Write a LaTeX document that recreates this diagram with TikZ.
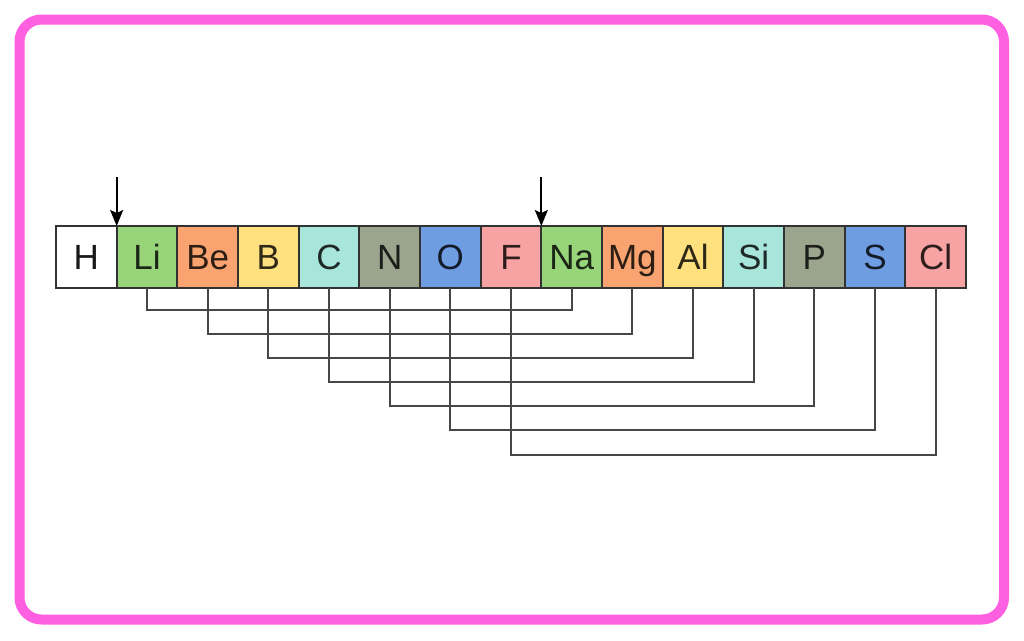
\documentclass[tikz,border=0pt]{standalone}
\usepackage{fontspec}
\setmainfont{Liberation Sans}
\usetikzlibrary{arrows.meta}
\definecolor{frame}{RGB}{255,95,225}
\definecolor{cgreen}{RGB}{151,212,122}
\definecolor{corange}{RGB}{249,164,112}
\definecolor{cyellow}{RGB}{255,224,127}
\definecolor{ccyan}{RGB}{168,230,220}
\definecolor{cgray}{RGB}{155,164,141}
\definecolor{cblue}{RGB}{110,157,226}
\definecolor{cpink}{RGB}{248,163,163}
\definecolor{edge}{RGB}{50,50,50}
\definecolor{wire}{RGB}{70,70,70}
\tikzset{
  cell/.style={draw=edge, line width=2pt, inner sep=0pt, outer sep=0pt, minimum width=60.67pt,
    minimum height=62pt, text height=24.3pt, text depth=0pt,
    font=\fontsize{35}{35}\selectfont, fill=#1, text=#1!18!black},
  conn/.style={draw=wire, line width=2pt},
  arr/.style={draw=black, line width=2pt, -{Stealth[length=16pt,width=13pt,inset=3pt]}},
  border/.style={draw=frame, line width=10pt, rounded corners=22pt}
}
\begin{document}
\begin{tikzpicture}[x=1pt,y=-1pt]
\useasboundingbox (0,0) rectangle (1024,640);
\fill[white] (0,0) rectangle (1024,640);
\draw[border] (19.5,19.5) rectangle (1004,619.5);
% cells
\foreach \s/\c [count=\i from 0] in {H/white,Li/cgreen,Be/corange,B/cyellow,C/ccyan,N/cgray,O/cblue,F/cpink,Na/cgreen,Mg/corange,Al/cyellow,Si/ccyan,P/cgray,S/cblue,Cl/cpink}{
  \node[cell=\c] (\s) at ({86.33+60.67*\i},257) {\s};
}
\node[cell=white, text=black!90] (H) at (86.33,257) {H};
% level coordinates
\coordinate (L1) at (0,310);
\coordinate (L2) at (0,334);
\coordinate (L3) at (0,358);
\coordinate (L4) at (0,382);
\coordinate (L5) at (0,406);
\coordinate (L6) at (0,430);
\coordinate (L7) at (0,455);
\draw[conn] (Li.south) -- (Li.south |- L1) -| (Na.south);
\draw[conn] (Be.south) -- (Be.south |- L2) -| (Mg.south);
\draw[conn] (B.south) -- (B.south |- L3) -| (Al.south);
\draw[conn] (C.south) -- (C.south |- L4) -| (Si.south);
\draw[conn] (N.south) -- (N.south |- L5) -| (P.south);
\draw[conn] (O.south) -- (O.south |- L6) -| (S.south);
\draw[conn] (F.south) -- (F.south |- L7) -| (Cl.south);
% arrows
\coordinate (A1) at (116.67,177);
\coordinate (A2) at (541.33,177);
\draw[arr] (A1) -- (A1 |- Li.north);
\draw[arr] (A2) -- (A2 |- Na.north);
\end{tikzpicture}
\end{document}
